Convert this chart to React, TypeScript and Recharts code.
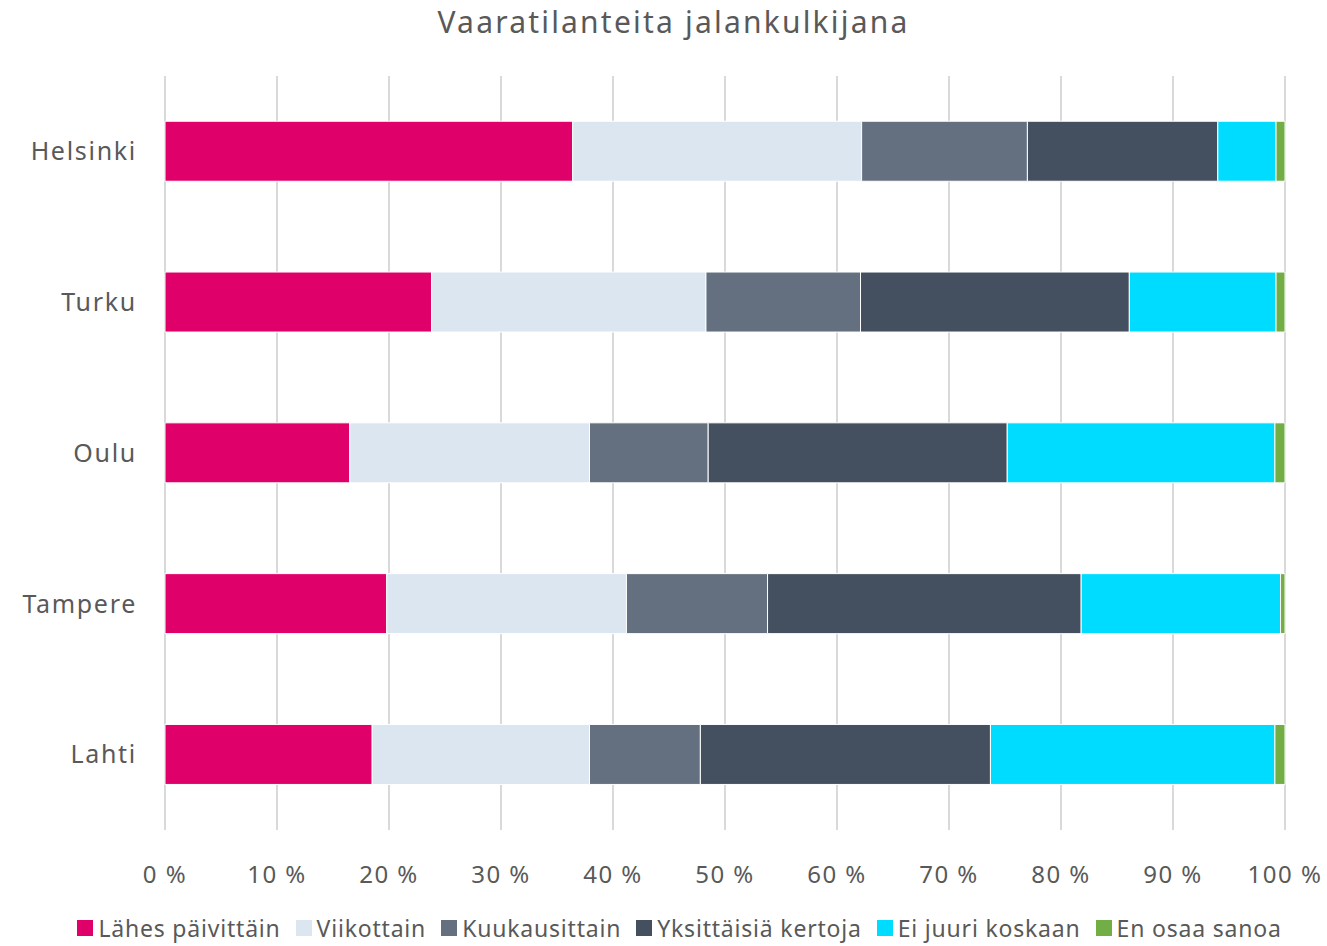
import { BarChart, Bar, XAxis, YAxis, CartesianGrid, Legend } from 'recharts';

const cities = ['Helsinki', 'Turku', 'Oulu', 'Tampere', 'Lahti'];

const lahesPaivittain = [36.4, 23.8, 16.5, 19.8, 18.5];
const viikottain = [25.8, 24.5, 21.4, 21.4, 19.4];
const kuukausittain = [14.8, 13.8, 10.6, 12.6, 9.9];
const yksittaisia = [17.0, 24.0, 26.7, 28.0, 25.9];
const eiJuuriKoskaan = [5.2, 13.1, 23.9, 17.8, 25.4];
const enOsaaSanoa = [0.8, 0.8, 0.9, 0.4, 0.9];

const xTicks = [0, 10, 20, 30, 40, 50, 60, 70, 80, 90, 100];

const series = [
  { key: 'lahes', name: 'Lähes päivittäin', color: '#E0006A', values: lahesPaivittain },
  { key: 'viikottain', name: 'Viikottain', color: '#DCE6F0', values: viikottain },
  { key: 'kuukausittain', name: 'Kuukausittain', color: '#646F80', values: kuukausittain },
  { key: 'yksittaisia', name: 'Yksittäisiä kertoja', color: '#444F5F', values: yksittaisia },
  { key: 'eiJuuri', name: 'Ei juuri koskaan', color: '#00DCFF', values: eiJuuriKoskaan },
  { key: 'enOsaa', name: 'En osaa sanoa', color: '#72AE45', values: enOsaaSanoa },
];

const data = cities.map((city, i) => {
  const row: Record<string, string | number> = { city };
  series.forEach((s) => {
    row[s.key] = s.values[i];
  });
  return row;
});

const FONT = '"Noto Sans", "Open Sans", sans-serif';
const TEXT = '#595959';

function LegendContent() {
  return (
    <div
      style={{
        display: 'flex',
        justifyContent: 'center',
        fontFamily: FONT,
        fontSize: 23,
        lineHeight: '30px',
        letterSpacing: 0.8,
        color: TEXT,
      }}
    >
      {series.map((s) => (
        <div key={s.key} style={{ display: 'flex', alignItems: 'center', marginRight: 15 }}>
          <span style={{ display: 'inline-block', width: 16, height: 16, background: s.color, marginRight: 5 }} />
          <span>{s.name}</span>
        </div>
      ))}
    </div>
  );
}

export default function App() {
  return (
    <div
      style={{
        position: 'fixed',
        left: 0,
        top: 0,
        width: 1327,
        height: 946,
        overflow: 'hidden',
        background: '#fff',
      }}
    >
      <div
        style={{
          position: 'absolute',
          top: 1,
          left: 0,
          width: 1347,
          textAlign: 'center',
          fontFamily: FONT,
          fontSize: 30,
          letterSpacing: 2.2,
          color: TEXT,
        }}
      >
        Vaaratilanteita jalankulkijana
      </div>
      <BarChart
        width={1327}
        height={946}
        data={data}
        layout="vertical"
        margin={{ top: 76, right: 42, left: 0, bottom: 56 }}
        barCategoryGap="30%"
      >
        <CartesianGrid horizontal={false} stroke="#d9d9d9" strokeWidth={2} />
        <XAxis
          type="number"
          domain={[0, 100]}
          ticks={xTicks}
          tickFormatter={(v) => `${v} %`}
          axisLine={false}
          tickLine={false}
          tickSize={0}
          tickMargin={36}
          height={60}
          interval={0}
          tick={{ fontSize: 24, fill: TEXT, fontFamily: FONT, letterSpacing: 1.5 }}
        />
        <YAxis
          type="category"
          dataKey="city"
          width={165}
          axisLine={false}
          tickLine={false}
          tickSize={0}
          tickMargin={28}
          tick={{ fontSize: 25, fill: TEXT, fontFamily: FONT, letterSpacing: 1.7 }}
        />
        <Legend
          layout="horizontal"
          verticalAlign="middle"
          align="center"
          content={<LegendContent />}
          wrapperStyle={{ top: 913, left: 0, width: 1374 }}
        />
        {series.map((s) => (
          <Bar
            key={s.key}
            dataKey={s.key}
            name={s.name}
            stackId="a"
            fill={s.color}
            stroke="#fff"
            strokeWidth={1}
            isAnimationActive={false}
          />
        ))}
      </BarChart>
    </div>
  );
}
